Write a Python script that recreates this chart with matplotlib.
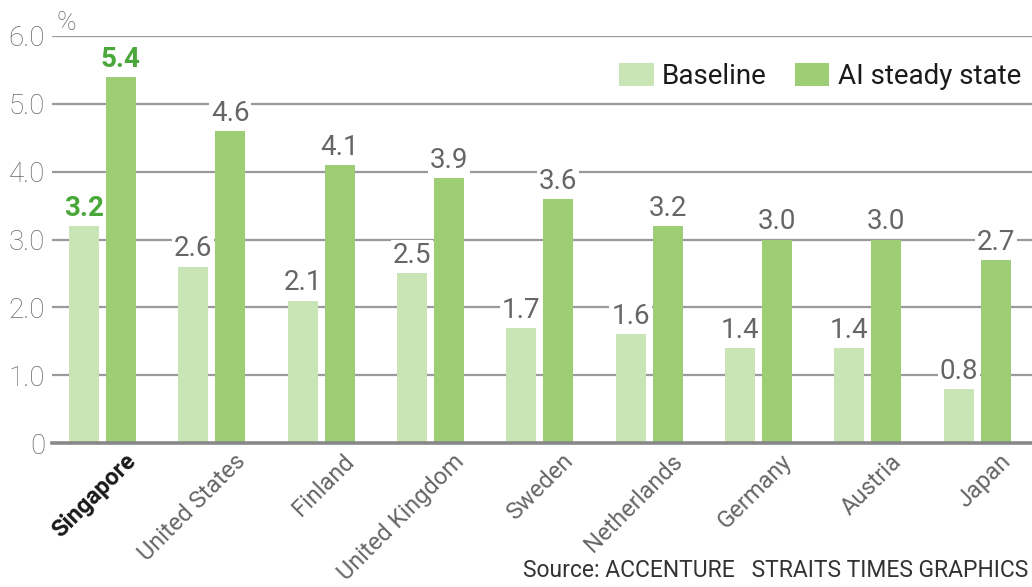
import numpy as np
import matplotlib
matplotlib.use("Agg")
import matplotlib.pyplot as plt

plt.rcParams['font.family'] = ['Roboto', 'DejaVu Sans']

# --- Data --- #
countries = ['Singapore', 'United States', 'Finland', 'United Kingdom', 'Sweden',
             'Netherlands', 'Germany', 'Austria', 'Japan']
baseline  = [3.2, 2.6, 2.1, 2.5, 1.7, 1.6, 1.4, 1.4, 0.8]
ai_steady = [5.4, 4.6, 4.1, 3.9, 3.6, 3.2, 3.0, 3.0, 2.7]
yticks    = [0, 1.0, 2.0, 3.0, 4.0, 5.0, 6.0]
ytick_labels = ['0', '1.0', '2.0', '3.0', '4.0', '5.0', '6.0']

c_base  = '#c9e4b5'
c_ai    = '#9dcd74'
c_grey  = '#666666'
c_hi    = '#4aa83a'
c_grid  = '#9a9a9a'

fig = plt.figure(figsize=(10.32, 5.87), dpi=100)
ax = fig.add_axes([52/1032, 1 - 443/587, 980/1032, 407/587])

x = np.arange(len(countries))
w = 0.274
off = 0.169

# gridlines
for t in yticks[1:]:
    ax.axhline(t, color=c_grid, lw=1.6, zorder=0)

ax.bar(x - off, baseline, w, color=c_base, zorder=2, label='Baseline')
ax.bar(x + off, ai_steady, w, color=c_ai, zorder=2, label='AI steady state')

ax.set_xlim(-0.46, 8.5)
ax.set_ylim(0, 6)
for s in ['top', 'right', 'left']:
    ax.spines[s].set_visible(False)
ax.spines['bottom'].set_color('#888888')
ax.spines['bottom'].set_linewidth(2.6)
ax.spines['bottom'].set_zorder(3)

ax.set_yticks(yticks)
ax.set_yticklabels(ytick_labels, fontsize=20, color=c_grey, fontweight='light')
ax.tick_params(axis='y', length=0, pad=5)
ax.set_xticks([])

# value labels
box = dict(facecolor='white', edgecolor='none', pad=1.5)
for i in range(len(countries)):
    hi = i == 0
    for xv, v in [(x[i] - off, baseline[i]), (x[i] + off, ai_steady[i])]:
        ax.annotate(f'{v:.1f}', (xv, v), xytext=(0, 3), textcoords='offset points',
                    ha='center', va='bottom', fontsize=20,
                    color=c_hi if hi else c_grey,
                    fontweight='bold' if hi else 'normal',
                    bbox=box, zorder=4, annotation_clip=False)

# country labels
for i, name in enumerate(countries):
    hi = i == 0
    ax.text(x[i] + 0.2, -0.1, name, rotation=45, rotation_mode='anchor',
            ha='right', va='top', fontsize=17,
            color='#1a1a1a' if hi else c_grey,
            fontweight='bold' if hi else 'normal', clip_on=False)

ax.legend(loc='upper right', bbox_to_anchor=(1.0, 1 - 52/587),
          bbox_transform=fig.transFigure, ncol=2, frameon=False,
          prop={'size': 20}, handlelength=1.25, handleheight=0.85,
          handletextpad=0.3, columnspacing=1.0, borderaxespad=0,
          labelcolor='#1a1a1a')

fig.text(56/1032, 1 - 30/587, '%', fontsize=19, color=c_grey, fontweight='light')
fig.text(1028/1032, 5/587, 'Source: ACCENTURE   STRAITS TIMES GRAPHICS',
         ha='right', va='bottom', fontsize=16.5, color='#333333')

fig.savefig('out.png', dpi=100)
